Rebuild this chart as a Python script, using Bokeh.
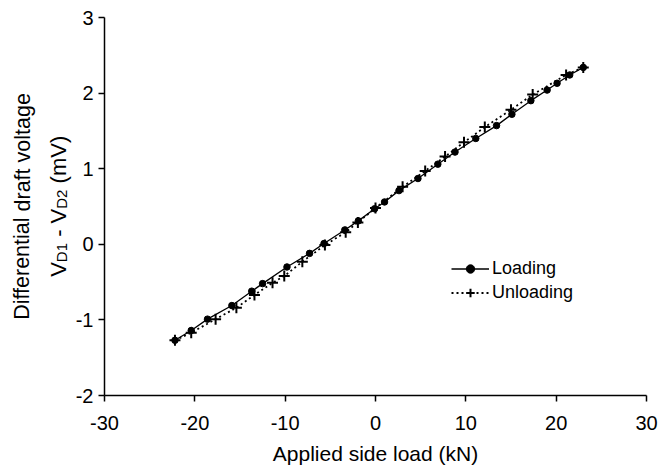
from bokeh.plotting import figure
from bokeh.models import Range1d, FixedTicker, Label, Legend, LegendItem
from bokeh.layouts import row
from bokeh.embed import file_html
from bokeh.resources import INLINE

# ---- data ----
load_x = [-22.2, -20.4, -18.6, -15.9, -13.7, -12.5, -9.8, -7.3, -5.7, -3.4, -1.9, -0.1,
          1.0, 2.6, 4.7, 6.9, 8.8, 11.1, 13.4, 15.1, 17.2, 19.0, 20.1, 21.5, 23.0]
load_y = [-1.27, -1.14, -0.99, -0.81, -0.62, -0.52, -0.30, -0.12, 0.01, 0.19, 0.31, 0.47,
          0.56, 0.71, 0.87, 1.06, 1.22, 1.40, 1.57, 1.72, 1.90, 2.04, 2.13, 2.24, 2.34]

unload_x = [-22.2, -20.4, -17.7, -15.4, -13.4, -11.4, -10.1, -8.1, -5.6, -3.3, -1.95, 0.0,
            3.0, 5.5, 7.7, 9.8, 12.1, 15.0, 17.4, 21.1, 23.0]
unload_y = [-1.27, -1.17, -0.99, -0.84, -0.67, -0.51, -0.42, -0.23, -0.01, 0.16, 0.29, 0.48,
            0.76, 0.97, 1.16, 1.35, 1.55, 1.78, 1.98, 2.24, 2.34]

x_ticks = [-30, -20, -10, 0, 10, 20, 30]
x_tick_labels = ["-30", "-20", "-10", "0", "10", "20", "30"]
y_ticks = [-2, -1, 0, 1, 2, 3]
y_tick_labels = ["-2", "-1", "0", "1", "2", "3"]

series_names = ["Loading", "Unloading"]
x_title = "Applied side load (kN)"
y_title_1 = "Differential draft voltage"
y_title_2 = [("V", False), ("D1", True), ("\u00a0-\u00a0V", False), ("D2", True), ("\u00a0(mV)", False)]

FONT = "Liberation Sans"
LEFT_W, TOTAL_W, TOTAL_H = 72, 659, 467
MAIN_W = TOTAL_W - LEFT_W

# ---- main plot ----
p = figure(width=MAIN_W, height=TOTAL_H, output_backend="svg", toolbar_location=None,
           x_range=Range1d(-30, 30), y_range=Range1d(-2, 3),
           min_border_left=30, min_border_right=13, min_border_top=17, min_border_bottom=71)
p.outline_line_color = None
p.grid.visible = False

for ax in (p.xaxis[0], p.yaxis[0]):
    ax.axis_line_width = 1.5
    ax.axis_line_color = "black"
    ax.major_tick_line_width = 1.5
    ax.major_tick_line_color = "black"
    ax.major_tick_out = 6
    ax.major_tick_in = 0
    ax.minor_tick_line_color = None
    ax.major_label_text_font = FONT
    ax.major_label_text_font_size = "20px"
    ax.major_label_text_color = "black"

p.xaxis.ticker = FixedTicker(ticks=x_ticks)
p.xaxis.major_label_overrides = {t: s for t, s in zip(x_ticks, x_tick_labels)}
p.xaxis.major_label_standoff = 14
p.xaxis.axis_label = x_title
p.xaxis.axis_label_text_font = FONT
p.xaxis.axis_label_text_font_size = "21px"
p.xaxis.axis_label_text_font_style = "normal"
p.xaxis.axis_label_text_color = "black"
p.xaxis.axis_label_standoff = 9

p.yaxis.ticker = FixedTicker(ticks=y_ticks)
p.yaxis.major_label_overrides = {t: s for t, s in zip(y_ticks, y_tick_labels)}
p.yaxis.major_label_standoff = 5

l1 = p.line(load_x, load_y, line_color="black", line_width=1.3)
s1 = p.scatter(load_x, load_y, marker="circle", size=6.5, fill_color="black", line_color="black")
l2 = p.line(unload_x, unload_y, line_color="black", line_width=1.8, line_dash="2 3")
s2 = p.scatter(unload_x, unload_y, marker="cross", size=11, line_color="black", line_width=2)

legend = Legend(items=[LegendItem(label=series_names[0], renderers=[l1, s1]),
                       LegendItem(label=series_names[1], renderers=[l2, s2])],
                location=(347, 92), padding=0, margin=0, spacing=3,
                glyph_width=38, glyph_height=21, label_height=21, label_standoff=3,
                label_text_font=FONT, label_text_font_size="18px", label_text_color="black",
                border_line_color=None, background_fill_alpha=0)
p.add_layout(legend)

# ---- left strip: two-line y-axis title (second line has subscripts) ----
# (its frame is aligned by the row layout with the main plot's frame)
left = figure(width=LEFT_W, height=TOTAL_H, output_backend="svg", toolbar_location=None,
              x_range=Range1d(0, 1), y_range=Range1d(0, 1),
              x_axis_type=None, y_axis_type=None,
              min_border_left=0, min_border_right=0, min_border_top=17, min_border_bottom=71)
left.outline_line_color = None
left.grid.visible = False

left.add_layout(Label(x=22, y=189, x_units="screen", y_units="screen", text=y_title_1,
                      angle=1.5707963, text_align="center", text_baseline="alphabetic",
                      text_font=FONT, text_font_size="21.5px", text_color="black"))
main_fs, sub_fs = 22, 15
widths = {"V": 0.667, "D": 0.722, "1": 0.556, "2": 0.556, "\u00a0": 0.278, "-": 0.333,
          "(": 0.333, ")": 0.333, "m": 0.833}
pos = 118.7
for txt, is_sub in y_title_2:
    fs = sub_fs if is_sub else main_fs
    left.add_layout(Label(x=61 if is_sub else 57.5, y=pos, x_units="screen", y_units="screen",
                          text=txt, angle=1.5707963, text_align="left", text_baseline="alphabetic",
                          text_font=FONT, text_font_size=f"{fs}px", text_color="black"))
    pos += sum(widths[c] for c in txt) * fs

layout = row(left, p, spacing=0)

open("out.html", "w").write(file_html(layout, INLINE))
